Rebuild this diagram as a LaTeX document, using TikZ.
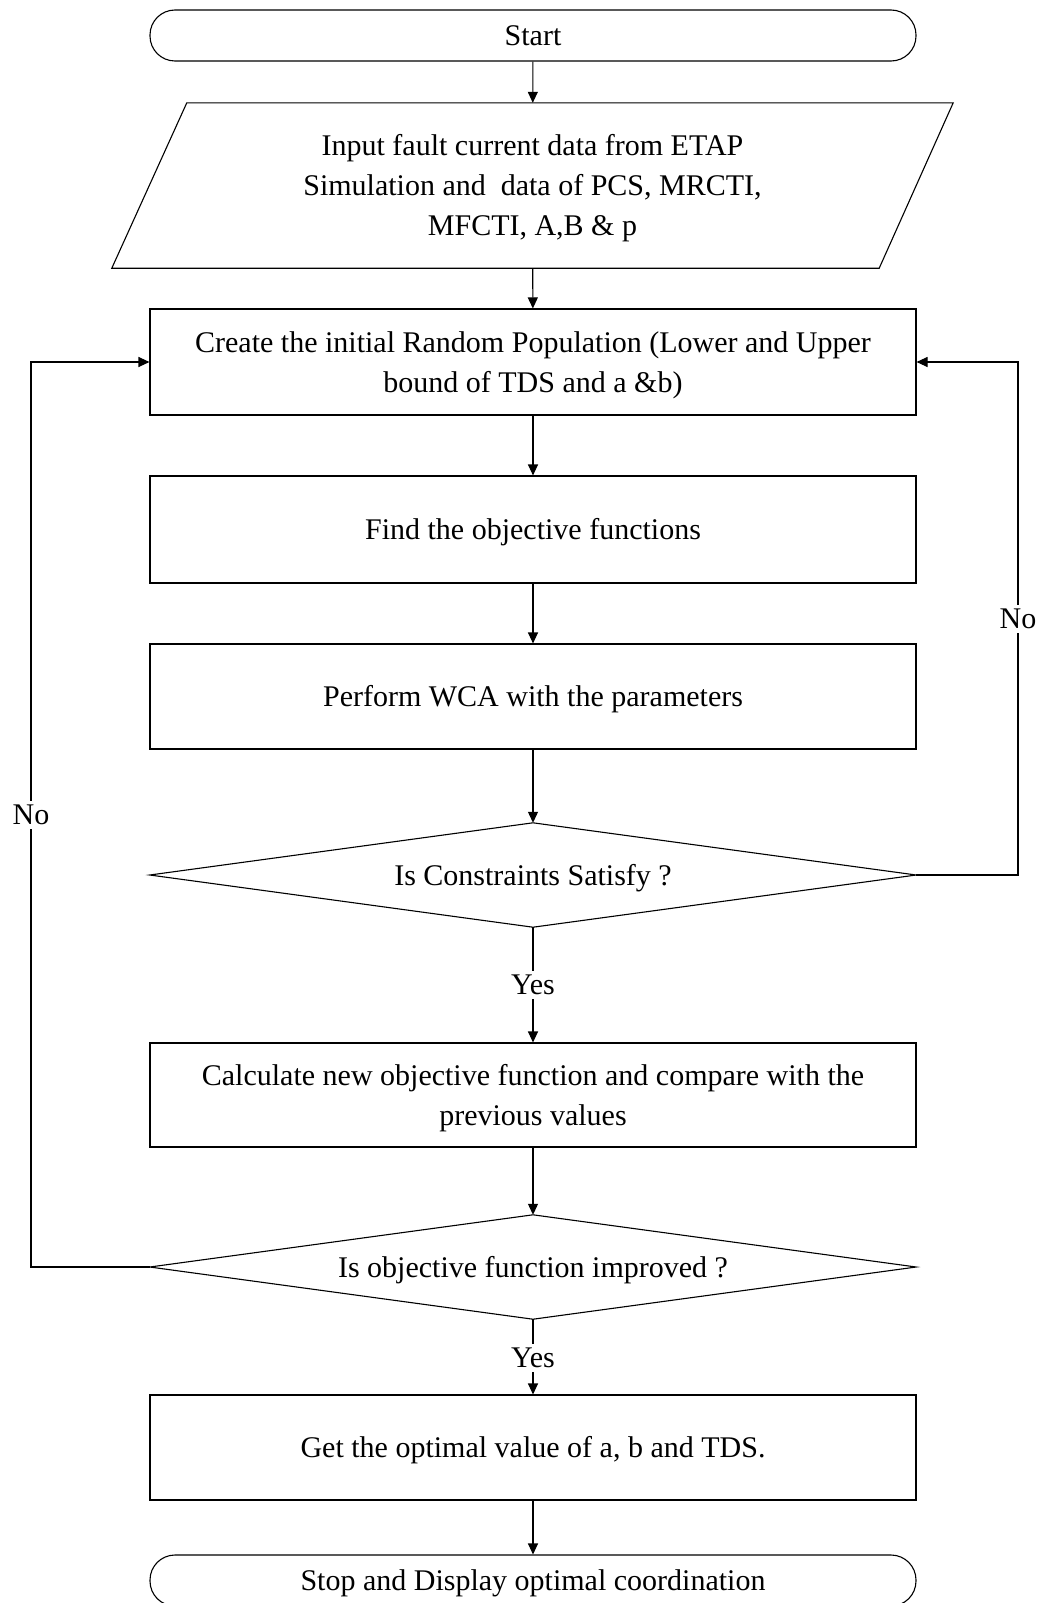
\documentclass[tikz,border=0pt]{standalone}
\usepackage{fontspec}
\setmainfont{Liberation Serif}
\usetikzlibrary{arrows.meta}
% raises the first line of a text block so that its visual centre sits on the node centre
\newcommand\tallstrut{\rule{0pt}{27pt}}

\begin{document}
\begin{tikzpicture}[x=1pt,y=-1pt,
  every node/.style={font=\fontsize{30}{40}\selectfont},
  flow/.style={line width=1.1pt},
  arr/.style={flow,-{Triangle[length=11pt,width=10pt]}},
  lowtext/.style={execute at begin node={\tallstrut}},
  procbox/.style={draw,line width=1.1pt,minimum width=766pt,minimum height=105pt,align=center,inner sep=0pt,lowtext},
  termbox/.style={draw,line width=1.1pt,rounded corners=25pt,minimum width=766pt,minimum height=51pt,inner sep=0pt},
  hidden/.style={draw=none,inner sep=0pt,align=center,lowtext},
  lbl/.style={inner sep=4pt}]

  \useasboundingbox (0,0) rectangle (1043,1603);
  \clip (0,0) rectangle (1043,1603);

  % terminals and process steps
  \node[termbox] (start) at (533,35.5) {Start};

  \node[hidden,minimum width=841pt,minimum height=165pt] (input) at (532.5,185.5)
    {\tallstrut Input fault current data from ETAP\\Simulation and~ data of PCS, MRCTI,\\MFCTI, A,B \& p};
  \draw[flow] ([xshift=75pt]input.north west) -- (input.north east)
    -- ([xshift=-74pt]input.south east) -- (input.south west) -- cycle;

  \node[procbox,minimum height=106pt] (create) at (533,362)
    {\tallstrut Create the initial Random Population (Lower and Upper\\bound of TDS and a \&b)};
  \node[procbox,minimum height=107pt] (find) at (533,529.5) {Find the objective functions};
  \node[procbox] (wca) at (533,696.5) {Perform WCA with the parameters};

  \node[hidden,minimum width=766pt,minimum height=104pt] (cons) at (533,875) {Is Constraints Satisfy ?};
  \draw[flow] (cons.west) -- (cons.north) -- (cons.east) -- (cons.south) -- cycle;

  \node[procbox,minimum height=104pt] (calc) at (533,1095)
    {\tallstrut Calculate new objective function and compare with the\\previous values};

  \node[hidden,minimum width=766pt,minimum height=104pt] (impr) at (533,1267) {Is objective function improved ?};
  \draw[flow] (impr.west) -- (impr.north) -- (impr.east) -- (impr.south) -- cycle;

  \node[procbox] (get) at (533,1447.5) {Get the optimal value of a, b and TDS.};
  \node[termbox,lowtext] (stop) at (533,1580.5) {Stop and Display optimal coordination};

  % branch labels
  \node[lbl] (yes1) at (533,985) {Yes};
  \node[lbl] (yes2) at (533,1358) {Yes};
  \node[lbl] (noR) at (1018,619) {No};
  \node[lbl] (noL) at (31,815) {No};

  % main flow
  \draw[arr] (start) -- (input);
  \draw[arr] (input) -- (create);
  \draw[arr] (create) -- (find);
  \draw[arr] (find) -- (wca);
  \draw[arr] (wca) -- (cons.north);
  \draw[flow] (cons.south) -- (yes1);
  \draw[arr] (yes1) -- (calc);
  \draw[arr] (calc) -- (impr.north);
  \draw[flow] (impr.south) -- (yes2);
  \draw[arr] (yes2) -- (get);
  \draw[arr] (get) -- (stop);

  % feedback loops
  \draw[flow] (cons.east) -| (noR.south);
  \draw[arr] (noR.north) |- (create.east);
  \draw[flow] (impr.west) -| (noL.south);
  \draw[arr] (noL.north) |- (create.west);
\end{tikzpicture}
\end{document}
